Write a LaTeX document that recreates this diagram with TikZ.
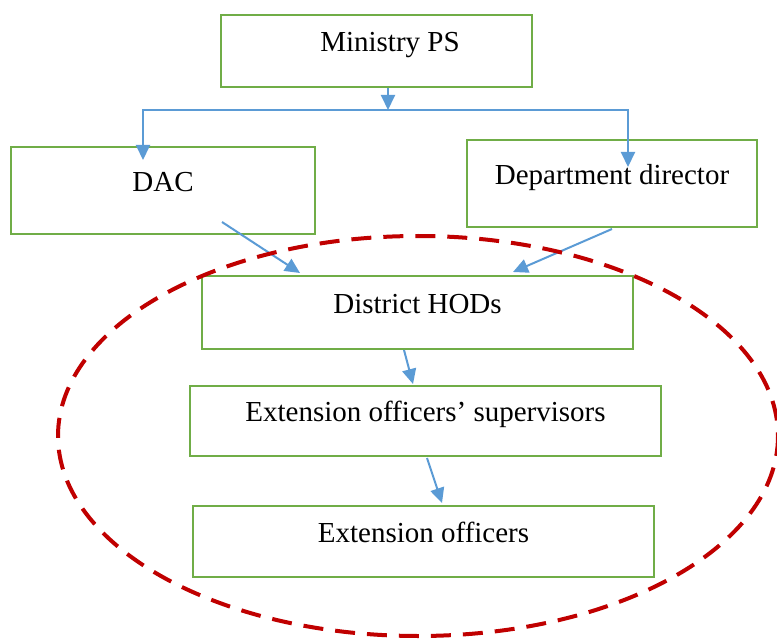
\documentclass[tikz,border=0pt]{standalone}
\usepackage{fontspec}
\setmainfont{Liberation Serif}
\usetikzlibrary{arrows.meta}

\begin{document}
\begin{tikzpicture}[x=1pt, y=-1pt,
    box/.style={draw=boxgreen, line width=2pt, rectangle, inner sep=0pt,
      font=\fontsize{29}{35}\selectfont, text height=0.75em, text depth=0.57em},
    link/.style={draw=linkblue, line width=2pt, -{Triangle[length=15pt, width=14pt]}},
    zone/.style={draw=zonered, line width=4pt, dash pattern=on 20pt off 12pt}]
      \definecolor{boxgreen}{RGB}{112,173,71}
      \definecolor{linkblue}{RGB}{91,155,213}
      \definecolor{zonered}{RGB}{192,0,0}
      \useasboundingbox (0,0) rectangle (777,639);
      % Boxes:
      \node[box, minimum width=311pt, minimum height=72pt] (ps) at (376.5,51) {\hspace*{27pt}Ministry PS};
      \node[box, minimum width=304pt, minimum height=87pt] (dac) at (163,190.5) {DAC};
      \node[box, minimum width=290pt, minimum height=87pt] (dept) at (612,183.5) {Department director};
      \node[box, minimum width=431pt, minimum height=73pt] (hods) at (417.5,312.5) {District HODs};
      \node[box, minimum width=471pt, minimum height=70pt] (sup) at (425.5,421) {Extension officers’ supervisors};
      \node[box, minimum width=461pt, minimum height=71pt] (off) at (423.5,541.5) {Extension officers};
      % Split under the ministry:
      \coordinate (split) at (388,110);
      \draw[link] ([xshift=11.5pt]ps.south) -- (split);
      \draw[link] (split) -| ([xshift=-20pt, yshift=-14pt]dac.north);
      \draw[link] (split) -| ([xshift=16pt, yshift=-28pt]dept.north);
      % Down to the district:
      \draw[link] ([xshift=-94pt, yshift=13pt]dac.south east) -- ([xshift=99pt, yshift=2pt]hods.north west);
      \draw[link] ([yshift=-1pt]dept.south) -- ([xshift=95.5pt, yshift=3pt]hods.north);
      \draw[link] ([xshift=-13.5pt]hods.south) -- ([xshift=-12.5pt, yshift=1pt]sup.north);
      \draw[link] ([xshift=1.5pt, yshift=-1pt]sup.south) -- ([xshift=18.5pt, yshift=2pt]off.north);
      % District level:
      \draw[zone] (418,436) ellipse [x radius=360, y radius=200];
    \end{tikzpicture}
\end{document}
